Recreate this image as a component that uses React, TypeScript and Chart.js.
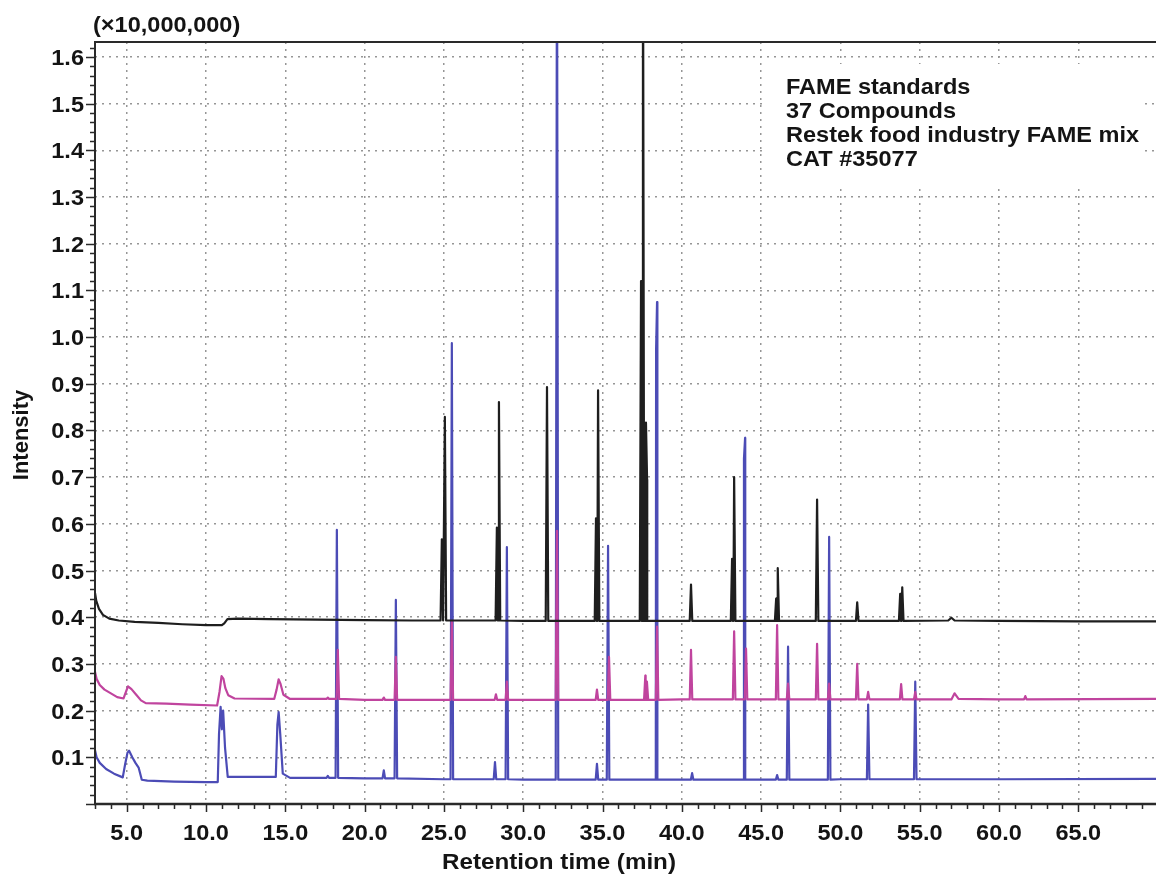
import React, { useEffect, useRef } from 'react';
import { Chart, registerables } from 'chart.js';

Chart.register(...registerables);

// ---------- axes / text ----------
const xTickValues = [5, 10, 15, 20, 25, 30, 35, 40, 45, 50, 55, 60, 65];
const xTickLabels = ['5.0', '10.0', '15.0', '20.0', '25.0', '30.0', '35.0', '40.0', '45.0', '50.0', '55.0', '60.0', '65.0'];
const yTickValues = [0.1, 0.2, 0.3, 0.4, 0.5, 0.6, 0.7, 0.8, 0.9, 1.0, 1.1, 1.2, 1.3, 1.4, 1.5, 1.6];
const yTickLabels = ['0.1', '0.2', '0.3', '0.4', '0.5', '0.6', '0.7', '0.8', '0.9', '1.0', '1.1', '1.2', '1.3', '1.4', '1.5', '1.6'];
const xRange = [3.0, 69.9];
const yRange = [0, 1.632];
const multiplierLabel = '(×10,000,000)';
const xAxisTitle = 'Retention time (min)';
const yAxisTitle = 'Intensity';
const noteLines = ['FAME standards', '37 Compounds', 'Restek food industry FAME mix', 'CAT #35077'];

// ---------- black trace (top) ----------
const blackBaseTime = [3.0, 3.08, 3.25, 3.5, 3.9, 4.5, 5.5, 7.0, 8.5, 10.0, 11.0, 11.15, 11.35, 12.0, 14.0, 17.0, 20.0, 23.0, 30.0, 40.0, 50.0, 56.8, 57.0, 57.2, 60.0, 65.0, 69.9];
const blackBaseLevel = [0.452, 0.435, 0.418, 0.405, 0.397, 0.393, 0.390, 0.388, 0.385, 0.383, 0.383, 0.387, 0.396, 0.397, 0.396, 0.395, 0.394, 0.393, 0.392, 0.392, 0.392, 0.393, 0.399, 0.393, 0.392, 0.391, 0.391];
const blackPeakTime = [24.87, 25.06, 28.34, 28.47, 31.50, 34.59, 34.72, 37.43, 37.55, 37.74, 37.81, 40.58, 43.17, 43.30, 45.95, 46.05, 48.53, 51.06, 53.77, 53.90];
const blackPeakHeight = [0.567, 0.829, 0.592, 0.861, 0.893, 0.612, 0.886, 1.12, 1.95, 0.817, 0.695, 0.470, 0.525, 0.700, 0.44, 0.505, 0.652, 0.432, 0.45, 0.464];

// ---------- magenta trace (middle) ----------
const magentaBaseTime = [3.0, 3.1, 3.3, 3.6, 3.95, 4.4, 4.8, 4.95, 5.08, 5.3, 5.6, 5.9, 6.2, 7.5, 9.0, 10.7, 10.85, 10.98, 11.1, 11.22, 11.4, 11.8, 14.3, 14.45, 14.58, 14.7, 14.88, 15.3, 20.0, 30.0, 40.0, 50.0, 57.0, 57.2, 57.45, 60.0, 69.9];
const magentaBaseLevel = [0.283, 0.268, 0.255, 0.245, 0.238, 0.229, 0.226, 0.240, 0.252, 0.246, 0.234, 0.222, 0.216, 0.215, 0.213, 0.211, 0.240, 0.274, 0.268, 0.248, 0.233, 0.226, 0.225, 0.245, 0.267, 0.257, 0.234, 0.225, 0.223, 0.223, 0.224, 0.224, 0.224, 0.237, 0.225, 0.224, 0.225];
const magentaPeakTime = [17.68, 18.31, 21.21, 21.97, 25.50, 28.28, 28.97, 32.13, 34.65, 35.41, 37.70, 37.80, 38.44, 40.58, 43.30, 44.05, 46.01, 46.70, 48.53, 49.29, 51.06, 51.75, 53.83, 54.72, 61.66];
const magentaPeakHeight = [0.228, 0.330, 0.228, 0.315, 0.390, 0.235, 0.262, 0.585, 0.245, 0.315, 0.275, 0.262, 0.380, 0.330, 0.370, 0.333, 0.383, 0.258, 0.343, 0.258, 0.300, 0.240, 0.257, 0.240, 0.231];

// ---------- blue trace (bottom) ----------
const blueBaseTime = [3.0, 3.1, 3.3, 3.7, 4.2, 4.75, 4.9, 5.05, 5.15, 5.35, 5.55, 5.75, 5.95, 6.3, 8.0, 10.0, 10.74, 10.82, 10.92, 11.0, 11.08, 11.2, 11.37, 12.0, 14.4, 14.5, 14.58, 14.68, 14.84, 15.3, 20.0, 25.0, 30.0, 40.0, 50.0, 60.0, 69.9];
const blueBaseLevel = [0.115, 0.100, 0.088, 0.075, 0.065, 0.057, 0.085, 0.110, 0.114, 0.100, 0.088, 0.078, 0.052, 0.050, 0.048, 0.047, 0.047, 0.150, 0.208, 0.160, 0.200, 0.120, 0.058, 0.058, 0.058, 0.170, 0.197, 0.150, 0.065, 0.056, 0.055, 0.053, 0.052, 0.052, 0.053, 0.053, 0.054];
const bluePeakTime = [17.68, 18.25, 21.21, 21.97, 25.50, 28.22, 28.97, 32.13, 34.65, 35.35, 38.38, 38.44, 40.65, 43.92, 43.99, 46.01, 46.70, 49.29, 51.75, 54.72];
const bluePeakHeight = [0.060, 0.587, 0.072, 0.437, 0.987, 0.090, 0.550, 1.95, 0.086, 0.553, 0.975, 1.075, 0.066, 0.740, 0.784, 0.062, 0.337, 0.572, 0.213, 0.262];

const PEAK_HALF_WIDTH = 0.08;

function buildTrace(baseT: number[], baseV: number[], peakT: number[], peakV: number[]) {
  const pts: { x: number; y: number }[] = baseT.map((t, i) => ({ x: t, y: baseV[i] }));
  peakT.forEach((t, i) => {
    let foot = baseV[0];
    for (let j = 0; j < baseT.length; j++) if (baseT[j] <= t) foot = baseV[j];
    pts.push({ x: t - PEAK_HALF_WIDTH, y: foot }, { x: t, y: peakV[i] }, { x: t + PEAK_HALF_WIDTH, y: foot });
  });
  pts.sort((a, b) => a.x - b.x);
  return pts;
}

const FONT = 'bold 22px "Liberation Sans", Arial, sans-serif';
const TEXT_COLOR = '#141414';

function drawText(ctx: CanvasRenderingContext2D, s: string, x: number, y: number, align: CanvasTextAlign, sx = 1.07) {
  ctx.save();
  ctx.translate(x, y);
  ctx.scale(sx, 1);
  ctx.textAlign = align;
  ctx.textBaseline = 'alphabetic';
  ctx.fillText(s, 0, 0);
  ctx.restore();
}

const decorPlugin = {
  id: 'decor',
  beforeDatasetsDraw(chart: any) {
    const { ctx } = chart;
    ctx.save();
    ctx.fillStyle = '#ffffff';
    ctx.fillRect(765, 64, 380, 120);
    ctx.restore();
  },
  afterDraw(chart: any) {
    const { ctx, chartArea, scales } = chart;
    const { left, right, top, bottom } = chartArea;
    const xs = scales.x;
    const ys = scales.y;
    ctx.save();
    ctx.strokeStyle = '#2a2a2a';
    ctx.fillStyle = TEXT_COLOR;
    ctx.font = FONT;

    // frame
    ctx.lineWidth = 2;
    ctx.beginPath();
    ctx.moveTo(left, top); ctx.lineTo(right, top);
    ctx.moveTo(left, top - 1); ctx.lineTo(left, bottom + 1);
    ctx.stroke();
    ctx.lineWidth = 2.5;
    ctx.beginPath();
    ctx.moveTo(left - 1, bottom); ctx.lineTo(right, bottom);
    ctx.stroke();

    // y ticks
    ctx.lineWidth = 1.5;
    ctx.beginPath();
    for (let k = 0; k <= 81; k++) {
      const v = k * 0.02;
      if (v > yRange[1]) break;
      const py = Math.round(ys.getPixelForValue(v)) + 0.5;
      const major = k % 5 === 0;
      ctx.moveTo(left - (major ? 9 : 5), py);
      ctx.lineTo(left, py);
    }
    ctx.stroke();

    // x ticks
    ctx.beginPath();
    for (let t = 3; t <= 69; t++) {
      const px = Math.round(xs.getPixelForValue(t)) + 0.5;
      const major = t % 5 === 0;
      ctx.moveTo(px, bottom);
      ctx.lineTo(px, bottom + (major ? 8 : 5));
    }
    ctx.stroke();

    // tick labels
    yTickValues.forEach((v, i) => {
      drawText(ctx, yTickLabels[i], left - 11, ys.getPixelForValue(v) + 8, 'right');
    });
    xTickValues.forEach((v, i) => {
      drawText(ctx, xTickLabels[i], xs.getPixelForValue(v), 840, 'center');
    });

    // titles
    drawText(ctx, multiplierLabel, 93, 32, 'left');
    drawText(ctx, xAxisTitle, 559, 869, 'center', 1.1);
    ctx.save();
    ctx.translate(28, 435);
    ctx.rotate(-Math.PI / 2);
    drawText(ctx, yAxisTitle, 0, 0, 'center', 1.0);
    ctx.restore();

    // note
    noteLines.forEach((s, i) => drawText(ctx, s, 786, 94 + i * 24, 'left'));
    ctx.restore();
  },
};

export default function App() {
  const canvasRef = useRef<HTMLCanvasElement | null>(null);

  useEffect(() => {
    if (!canvasRef.current) return;
    const chart = new Chart(canvasRef.current, {
      type: 'line',
      data: {
        datasets: [
          {
            label: 'Black',
            data: buildTrace(blackBaseTime, blackBaseLevel, blackPeakTime, blackPeakHeight),
            borderColor: '#1e1e1e',
            borderWidth: 2.2,
          },
          {
            label: 'Magenta',
            data: buildTrace(magentaBaseTime, magentaBaseLevel, magentaPeakTime, magentaPeakHeight),
            borderColor: '#c0449e',
            borderWidth: 2.2,
          },
          {
            label: 'Blue',
            data: buildTrace(blueBaseTime, blueBaseLevel, bluePeakTime, bluePeakHeight),
            borderColor: '#4c4cb6',
            borderWidth: 2.2,
          },
        ],
      },
      options: {
        animation: false,
        responsive: true,
        maintainAspectRatio: false,
        parsing: false as any,
        elements: {
          point: { radius: 0, hoverRadius: 0 },
          line: { tension: 0, borderJoinStyle: 'round', fill: false },
        },
        layout: { padding: { top: 42, left: 0, right: 0, bottom: 0 } },
        plugins: { legend: { display: false }, tooltip: { enabled: false } },
        scales: {
          x: {
            type: 'linear',
            min: xRange[0],
            max: xRange[1],
            afterBuildTicks: (scale: any) => {
              scale.ticks = xTickValues.map((v) => ({ value: v }));
            },
            afterFit: (scale: any) => {
              scale.height = 75;
            },
            ticks: { display: false },
            grid: { color: '#969696', lineWidth: 1.5, drawTicks: false },
            border: { display: false, dash: [2, 5] },
          },
          y: {
            type: 'linear',
            min: yRange[0],
            max: yRange[1],
            afterBuildTicks: (scale: any) => {
              scale.ticks = yTickValues.map((v) => ({ value: v }));
            },
            afterFit: (scale: any) => {
              scale.width = 95;
            },
            ticks: { display: false },
            grid: { color: '#969696', lineWidth: 1.5, drawTicks: false },
            border: { display: false, dash: [2, 5] },
          },
        },
      },
      plugins: [decorPlugin],
    });
    return () => chart.destroy();
  }, []);

  return (
    <div style={{ position: 'fixed', left: 0, top: 0, width: 1156, height: 879, background: '#ffffff' }}>
      <canvas ref={canvasRef} />
    </div>
  );
}
